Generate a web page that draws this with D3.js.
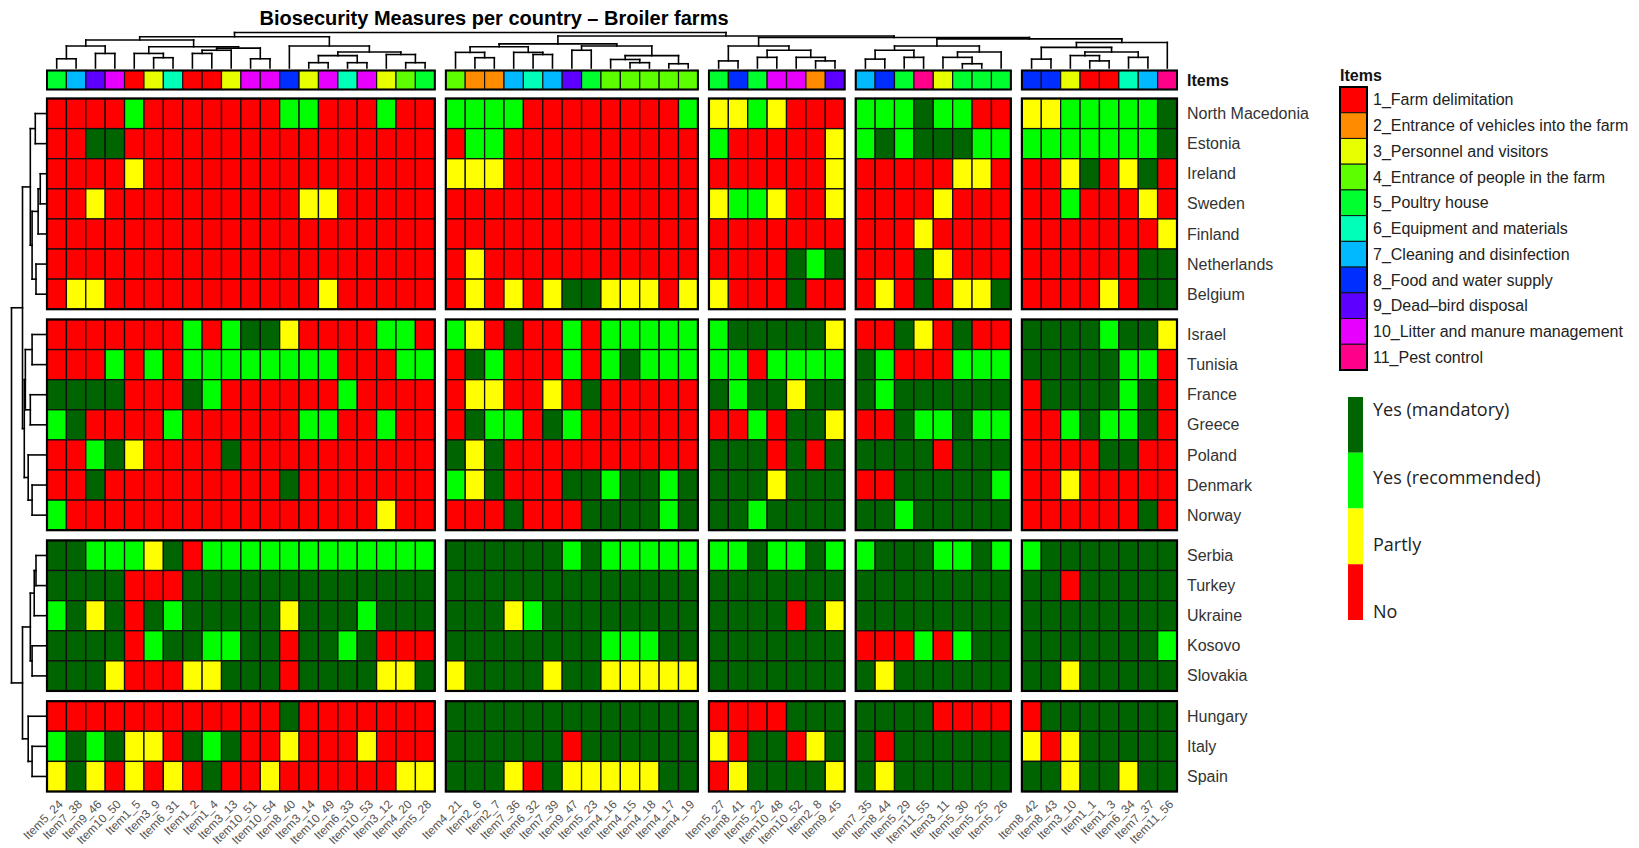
<!DOCTYPE html>
<html lang="en">
<head>
<meta charset="UTF-8">
<title>Biosecurity Measures per country - Broiler farms</title>
<script src="https://d3js.org/d3.v7.min.js"></script>
<style>
    body { margin: 0; background: #fff; }
    svg { display: block; }
</style>
</head>
<body>
<script>
// ---- data ----
// countries in row order, grouped in 4 row clusters
var countries = ["North Macedonia", "Estonia", "Ireland", "Sweden", "Finland", "Netherlands", "Belgium",
    "Israel", "Tunisia", "France", "Greece", "Poland", "Denmark", "Norway",
    "Serbia", "Turkey", "Ukraine", "Kosovo", "Slovakia",
    "Hungary", "Italy", "Spain"];
var rowBlocks = [7, 7, 5, 3];

// items in column order, grouped in 5 column clusters
var items = ["Item5_24", "Item7_38", "Item9_46", "Item10_50", "Item1_5", "Item3_9", "Item6_31", "Item1_2", "Item1_4", "Item3_13",
    "Item10_51", "Item10_54", "Item8_40", "Item3_14", "Item10_49", "Item6_33", "Item10_53", "Item3_12", "Item4_20", "Item5_28",
    "Item4_21", "Item2_6", "Item2_7", "Item7_36", "Item6_32", "Item7_39", "Item9_47", "Item5_23", "Item4_16", "Item4_15",
    "Item4_18", "Item4_17", "Item4_19",
    "Item5_27", "Item8_41", "Item5_22", "Item10_48", "Item10_52", "Item2_8", "Item9_45",
    "Item7_35", "Item8_44", "Item5_29", "Item11_55", "Item3_11", "Item5_30", "Item5_25", "Item5_26",
    "Item8_42", "Item8_43", "Item3_10", "Item1_1", "Item1_3", "Item6_34", "Item7_37", "Item11_56"];
var colBlocks = [20, 13, 7, 8, 8];

// one string per country, one letter per item (spaces split the column clusters)
// M = Yes (mandatory), R = Yes (recommended), P = Partly, N = No
var answers = [
    "NNNNRNNNNNNNRRNNNRNN RRRRNNNNNNNNR PPRPNNN RRRMRRNN PPRRRRRM",
    "NNMMNNNNNNNNNNNNNNNN NRRNNNNNNNNNN RNNNNNP RMRMMMRR RRRRRRRM",
    "NNNNPNNNNNNNNNNNNNNN PPPNNNNNNNNNN NNNNNNP NNNNNPPN NNPMNPMN",
    "NNPNNNNNNNNNNPPNNNNN NNNNNNNNNNNNN PRRPNNP NNNNPNNN NNRNNNPN",
    "NNNNNNNNNNNNNNNNNNNN NNNNNNNNNNNNN NNNNNNN NNNPNNNN NNNNNNNP",
    "NNNNNNNNNNNNNNNNNNNN NPNNNNNNNNNNN NNNNMRM NNNMPNNN NNNNNNMM",
    "NPPNNNNNNNNNNNPNNNNN NPNPNPMMPPPNP PNNNMNN NPNMNPPM NNNNPNMM",
    "NNNNNNNRNRMMPNNNNRRN RPNMNNRNRRRRR RMMMMMP NNMPNMNN MMMMRMMP",
    "NNNRNRNRRRRRRRRNNNRR NMRNNNRNRMRRR RRNRRRR MRNNNRRR MMMMMRRN",
    "MMMMNNNMRNNNNNNRNNNN NPPNNPNMNNNNN MRMMPMM MRMMMMMM NMMMMRMN",
    "RMNNNNRNNNNNNRRNNRNN NMRRNMRNNNNNN NNRNMMP NNMRRMRR NNRMRRMN",
    "NNRMPNNNNMNNNNNNNNNN MPMNNNNNNNNNN MMMNMNM MMMMNMMM NNNNMMNN",
    "NNMNNNNNNNNNMNNNNNNN RPMNNNMMRMMRM MMMPMMM NNMMMMMR NNPNNNNN",
    "RNNNNNNNNNNNNNNNNPNN NNNMNNNMMMMRM MMRMMMM MMRMMMMM NNNNNNMN",
    "MMRRRPMNRRRRRRRRRRRR MMMMMMRMRRRRR RRMRRMR RMMMRRMR RMMMMMMM",
    "MMMMNNNMMMMMMMMMMMMM MMMMMMMMMMMMM MMMMMMM MMMMMMMM MMNMMMMM",
    "RMPMNMRMMMMMPMMMRMMM MMMPRMMMMMMMM MMMMNMP MMMMMMMM MMMMMMMM",
    "MMMMNRMMRRMMNMMRMNNN MMMMMMMMRRRMM MMMMMMM NNNRNRMM MMMMMMMR",
    "MMMPNNNPPMMMNMMMMPPM PMMMMPMMPPPPP MMMMMMM MPMMMMMM MMPMMMMM",
    "NNNNNNNNNNNNMNNNNNNN MMMMMMMMMMMMM NNNNMMM MMMMNNNN NMMMMMMM",
    "RMRMPPNMRMNNPNNNPNNN MMMMMMNMMMMMM PNMMNPM MNMMMMMM PNPMMMMM",
    "PMPNPNPNMNNPNNNNNNPP MMMPNMPPPPPMM NPMMMMP MPMMMMMM MMPMMPMM"
];

var statusCodes = ["M", "R", "P", "N"];
var statusLabels = ["Yes (mandatory)", "Yes (recommended)", "Partly", "No"];
var statusColors = ["#006400", "#00FF00", "#FFFF00", "#FF0000"];

var groupLabels = ["1_Farm delimitation", "2_Entrance of vehicles into the farm", "3_Personnel and visitors",
    "4_Entrance of people in the farm", "5_Poultry house", "6_Equipment and materials",
    "7_Cleaning and disinfection", "8_Food and water supply", "9_Dead\u2013bird disposal",
    "10_Litter and manure management", "11_Pest control"];
var groupColors = ["#FF0000", "#FF8B00", "#E8FF00", "#5DFF00", "#00FF2E", "#00FFB9",
    "#00B9FF", "#002EFF", "#5D00FF", "#E800FF", "#FF008B"];

// dendrograms: [left, right, height], leaves are row / column indices
var rowTree = [
    [[[0, 1, 0.33], [[[2, 3, 0.19], 4, 0.25], [5, 6, 0.31], 0.42], 0.47],
     [[[7, 8, 0.42], [9, 10, 0.47], 0.61], [11, [12, 13, 0.42], 0.53], 0.64], 0.69],
    [[[[14, 15, 0.31], 16, 0.36], [17, 18, 0.42], 0.47],
     [19, [20, 21, 0.42], 0.53], 0.69],
    1.0];

var colTree1 = [
    [[[0, 1, 0.26], [2, 3, 0.41], 0.62], [[4, [5, 6, 0.29], 0.41], [[[7, 8, 0.41], 9, 0.5], [10, 11, 0.26], 0.56], 0.6], 0.79],
    [12, [[[13, 14, 0.15], [15, 16, 0.15], 0.35], [17, [18, 19, 0.15], 0.38], 0.45], 0.62],
    0.88];
var colTree2 = [
    [[20, [21, 22, 0.29], 0.44], [23, [24, 25, 0.38], 0.44], 0.6],
    [[26, 27, 0.5], [[28, [29, 30, 0.15], 0.24], [31, 32, 0.12], 0.35], 0.62],
    0.68];
var colTree3 = [[33, 34, 0.2], [[35, 36, 0.3], [37, [38, 39, 0.2], 0.3], 0.5], 0.62];
var colTree4 = [[[40, 41, 0.25], [42, 43, 0.3], 0.5], [[44, [45, 46, 0.12], 0.3], 47, 0.45], 0.62];
var colTree5 = [[[48, 49, 0.25], [[50, [51, 52, 0.2], 0.35], [53, 54, 0.3], 0.45], 0.58], 55, 0.72];
var colTree = [colTree1, [colTree2, [colTree3, [colTree4, colTree5, 0.82], 0.86], 0.9], 1.0];

// ---- layout ----
var width = 1639, height = 848;
var svg = d3.select('body').append('svg')
    .attr('width', width)
    .attr('height', height)
    .style('font-family', '"Liberation Sans", Arial, sans-serif');

var colGapUnits = 0.57, rowGapUnits = 0.34;

function slots(blocks, gap) {
    var out = [];
    var k = 0;
    blocks.forEach(function (n, b) {
        for (var j = 0; j < n; j++) {
            out.push({ slot: k + b * gap, block: b });
            k = k + 1;
        }
    });
    return out;
}
var colSlots = slots(colBlocks, colGapUnits);
var rowSlots = slots(rowBlocks, rowGapUnits);

var x = d3.scaleLinear()
    .domain([0, items.length + (colBlocks.length - 1) * colGapUnits])
    .range([47, 1177]);
var y = d3.scaleLinear()
    .domain([0, countries.length + (rowBlocks.length - 1) * rowGapUnits])
    .range([98.5, 791.5]);
var cw = x(1) - x(0);
var rh = y(1) - y(0);

var statusColor = d3.scaleOrdinal().domain(statusCodes).range(statusColors);
var groupColor = d3.scaleOrdinal().domain(d3.range(1, 12)).range(groupColors);

function itemGroup(name) {
    return +name.replace('Item', '').split('_')[0];
}

// ---- title ----
svg.append('text')
    .attr('x', 494)
    .attr('y', 25)
    .attr('text-anchor', 'middle')
    .style('font-family', '"Liberation Sans Narrow", "Liberation Sans", sans-serif')
    .style('font-weight', 'bold')
    .style('font-size', '20px')
    .text('Biosecurity Measures per country \u2013 Broiler farms');

// ---- heatmap cells ----
var cells = [];
answers.forEach(function (row, r) {
    var codes = row.replace(/ /g, '').split('');
    codes.forEach(function (c, i) {
        cells.push({ r: r, c: i, v: c });
    });
});

svg.append('g').selectAll('rect')
    .data(cells)
    .enter()
    .append('rect')
    .attr('x', function (d) { return x(colSlots[d.c].slot); })
    .attr('y', function (d) { return y(rowSlots[d.r].slot); })
    .attr('width', cw)
    .attr('height', rh)
    .attr('fill', function (d) { return statusColor(d.v); })
    .attr('stroke', '#111')
    .attr('stroke-width', 1.3);

// block frames
function blockExtents(s, n) {
    var ext = [];
    for (var b = 0; b < n; b++) {
        var inB = s.filter(function (d) { return d.block == b; });
        ext.push([inB[0].slot, inB[inB.length - 1].slot + 1]);
    }
    return ext;
}
var colExt = blockExtents(colSlots, colBlocks.length);
var rowExt = blockExtents(rowSlots, rowBlocks.length);
var frames = [];
colExt.forEach(function (ce) {
    rowExt.forEach(function (re) {
        frames.push({ c: ce, r: re });
    });
});
svg.append('g').selectAll('rect')
    .data(frames)
    .enter()
    .append('rect')
    .attr('x', function (d) { return x(d.c[0]); })
    .attr('y', function (d) { return y(d.r[0]); })
    .attr('width', function (d) { return x(d.c[1]) - x(d.c[0]); })
    .attr('height', function (d) { return y(d.r[1]) - y(d.r[0]); })
    .attr('fill', 'none')
    .attr('stroke', '#000')
    .attr('stroke-width', 2.2);

// ---- item colour bar ----
var barTop = 70.5, barBottom = 89.5;
svg.append('g').selectAll('rect')
    .data(items)
    .enter()
    .append('rect')
    .attr('x', function (d, i) { return x(colSlots[i].slot); })
    .attr('y', barTop)
    .attr('width', cw)
    .attr('height', barBottom - barTop)
    .attr('fill', function (d) { return groupColor(itemGroup(d)); })
    .attr('stroke', '#111')
    .attr('stroke-width', 1.2);
svg.append('g').selectAll('rect')
    .data(colExt)
    .enter()
    .append('rect')
    .attr('x', function (d) { return x(d[0]); })
    .attr('y', barTop)
    .attr('width', function (d) { return x(d[1]) - x(d[0]); })
    .attr('height', barBottom - barTop)
    .attr('fill', 'none')
    .attr('stroke', '#000')
    .attr('stroke-width', 2);

// ---- dendrograms ----
function layoutTree(node, leafPos, segs) {
    if (typeof node === 'number') {
        return { p: leafPos(node), h: 0 };
    }
    var a = layoutTree(node[0], leafPos, segs);
    var b = layoutTree(node[1], leafPos, segs);
    var h = node[2];
    segs.push({ p1: a.p, h1: a.h, p2: a.p, h2: h });
    segs.push({ p1: b.p, h1: b.h, p2: b.p, h2: h });
    segs.push({ p1: a.p, h1: h, p2: b.p, h2: h });
    return { p: (a.p + b.p) / 2, h: h };
}

var colSegs = [];
layoutTree(colTree, function (i) { return x(colSlots[i].slot) + cw / 2; }, colSegs);
var hTop = d3.scaleLinear().domain([0, 1]).range([68, 32.5]);
svg.append('g').selectAll('line')
    .data(colSegs)
    .enter()
    .append('line')
    .attr('x1', function (d) { return d.p1; })
    .attr('x2', function (d) { return d.p2; })
    .attr('y1', function (d) { return hTop(d.h1); })
    .attr('y2', function (d) { return hTop(d.h2); })
    .attr('stroke', '#000')
    .attr('stroke-width', 1.6)
    .attr('stroke-linecap', 'square');

var rowSegs = [];
layoutTree(rowTree, function (i) { return y(rowSlots[i].slot) + rh / 2; }, rowSegs);
var hLeft = d3.scaleLinear().domain([0, 1]).range([47, 11.5]);
svg.append('g').selectAll('line')
    .data(rowSegs)
    .enter()
    .append('line')
    .attr('y1', function (d) { return d.p1; })
    .attr('y2', function (d) { return d.p2; })
    .attr('x1', function (d) { return hLeft(d.h1); })
    .attr('x2', function (d) { return hLeft(d.h2); })
    .attr('stroke', '#000')
    .attr('stroke-width', 1.6)
    .attr('stroke-linecap', 'square');

// ---- row labels ----
svg.append('g').selectAll('text')
    .data(countries)
    .enter()
    .append('text')
    .attr('x', 1187)
    .attr('y', function (d, i) { return y(rowSlots[i].slot) + rh / 2; })
    .attr('dy', '0.35em')
    .style('font-size', '16px')
    .attr('fill', '#333')
    .text(function (d) { return d; });

svg.append('text')
    .attr('x', 1187)
    .attr('y', (barTop + barBottom) / 2)
    .attr('dy', '0.35em')
    .style('font-size', '16px')
    .style('font-weight', 'bold')
    .attr('fill', '#111')
    .text('Items');

// ---- column labels ----
svg.append('g').selectAll('text')
    .data(items)
    .enter()
    .append('text')
    .attr('transform', function (d, i) {
        return 'translate(' + (x(colSlots[i].slot) + cw / 2 + 4) + ',' + 802 + ') rotate(-45)';
    })
    .attr('text-anchor', 'end')
    .attr('dy', '0.35em')
    .style('font-size', '12px')
    .attr('fill', '#555')
    .text(function (d) { return d; });

// ---- legend: item groups ----
var legX = 1340, legW = 27;
var legY = d3.scaleBand().domain(groupLabels).range([87, 370]);
var leg = svg.append('g');
leg.append('text')
    .attr('x', legX)
    .attr('y', 75)
    .attr('dy', '0.35em')
    .style('font-size', '16px')
    .style('font-weight', 'bold')
    .attr('fill', '#111')
    .text('Items');
leg.selectAll('rect.key')
    .data(groupLabels)
    .enter()
    .append('rect')
    .attr('class', 'key')
    .attr('x', legX)
    .attr('y', function (d) { return legY(d); })
    .attr('width', legW)
    .attr('height', legY.bandwidth())
    .attr('fill', function (d, i) { return groupColors[i]; })
    .attr('stroke', '#111')
    .attr('stroke-width', 1);
leg.append('rect')
    .attr('x', legX)
    .attr('y', legY.range()[0])
    .attr('width', legW)
    .attr('height', legY.range()[1] - legY.range()[0])
    .attr('fill', 'none')
    .attr('stroke', '#000')
    .attr('stroke-width', 2);
leg.selectAll('text.lab')
    .data(groupLabels)
    .enter()
    .append('text')
    .attr('class', 'lab')
    .attr('x', legX + legW + 6)
    .attr('y', function (d) { return legY(d) + legY.bandwidth() / 2; })
    .attr('dy', '0.35em')
    .style('font-size', '16px')
    .attr('fill', '#222')
    .text(function (d) { return d; });

// ---- legend: answers ----
var keyY = d3.scaleBand().domain(statusLabels).range([397, 620]);
var keyLabY = d3.scalePoint().domain(statusLabels).range([410, 612]);
var key = svg.append('g');
key.selectAll('rect')
    .data(statusLabels)
    .enter()
    .append('rect')
    .attr('x', legX + 8)
    .attr('y', function (d) { return keyY(d); })
    .attr('width', 15)
    .attr('height', keyY.bandwidth())
    .attr('fill', function (d, i) { return statusColors[i]; });
key.selectAll('text')
    .data(statusLabels)
    .enter()
    .append('text')
    .attr('x', legX + legW + 6)
    .attr('y', function (d) { return keyLabY(d); })
    .attr('dy', '0.35em')
    .style('font-family', '"Open Sans", sans-serif')
    .style('font-size', '18px')
    .attr('fill', '#222')
    .text(function (d) { return d; });
</script>
</body>
</html>
